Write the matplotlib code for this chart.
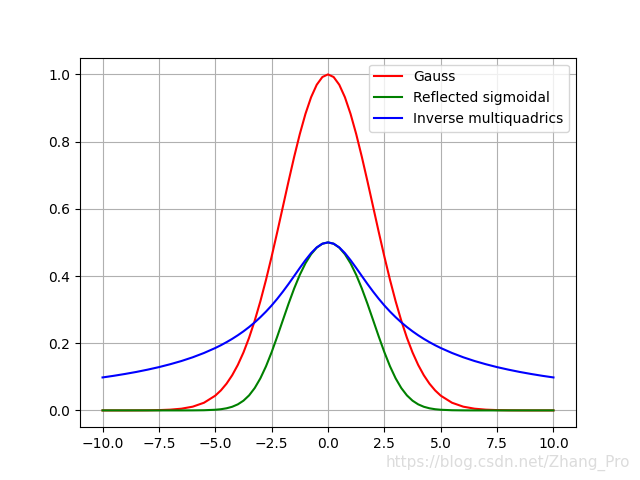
import matplotlib
matplotlib.use("Agg")
import matplotlib.pyplot as plt

x = [-10.0, -9.5, -9.0, -8.5, -8.0, -7.5, -7.0, -6.5, -6.0, -5.5,
     -5.0, -4.75, -4.5, -4.25, -4.0, -3.75, -3.5, -3.25, -3.0, -2.75,
     -2.5, -2.25, -2.0, -1.75, -1.5, -1.25, -1.0, -0.75, -0.5, -0.25,
     0.0,
     0.25, 0.5, 0.75, 1.0, 1.25, 1.5, 1.75, 2.0, 2.25, 2.5,
     2.75, 3.0, 3.25, 3.5, 3.75, 4.0, 4.25, 4.5, 4.75, 5.0,
     5.5, 6.0, 6.5, 7.0, 7.5, 8.0, 8.5, 9.0, 9.5, 10.0]

gauss = [0.0000, 0.0000, 0.0000, 0.0001, 0.0003, 0.0009, 0.0022, 0.0051, 0.0111, 0.0228,
         0.0439, 0.0596, 0.0796, 0.1046, 0.1353, 0.1724, 0.2163, 0.2671, 0.3247, 0.3886,
         0.4578, 0.5311, 0.6065, 0.6819, 0.7548, 0.8226, 0.8825, 0.9321, 0.9692, 0.9922,
         1.0000,
         0.9922, 0.9692, 0.9321, 0.8825, 0.8226, 0.7548, 0.6819, 0.6065, 0.5311, 0.4578,
         0.3886, 0.3247, 0.2671, 0.2163, 0.1724, 0.1353, 0.1046, 0.0796, 0.0596, 0.0439,
         0.0228, 0.0111, 0.0051, 0.0022, 0.0009, 0.0003, 0.0001, 0.0000, 0.0000, 0.0000]

reflected = [0.0000, 0.0000, 0.0000, 0.0000, 0.0000, 0.0000, 0.0000, 0.0000, 0.0001, 0.0005,
             0.0019, 0.0035, 0.0063, 0.0108, 0.0180, 0.0289, 0.0447, 0.0666, 0.0954, 0.1312,
             0.1733, 0.2200, 0.2689, 0.3174, 0.3630, 0.4036, 0.4378, 0.4649, 0.4844, 0.4961,
             0.5000,
             0.4961, 0.4844, 0.4649, 0.4378, 0.4036, 0.3630, 0.3174, 0.2689, 0.2200, 0.1733,
             0.1312, 0.0954, 0.0666, 0.0447, 0.0289, 0.0180, 0.0108, 0.0063, 0.0035, 0.0019,
             0.0005, 0.0001, 0.0000, 0.0000, 0.0000, 0.0000, 0.0000, 0.0000, 0.0000, 0.0000]

inv_mq = [0.0981, 0.1030, 0.1085, 0.1145, 0.1213, 0.1288, 0.1374, 0.1470, 0.1581, 0.1709,
          0.1857, 0.1940, 0.2031, 0.2129, 0.2236, 0.2353, 0.2481, 0.2620, 0.2774, 0.2941,
          0.3123, 0.3322, 0.3536, 0.3763, 0.4000, 0.4240, 0.4472, 0.4682, 0.4851, 0.4961,
          0.5000,
          0.4961, 0.4851, 0.4682, 0.4472, 0.4240, 0.4000, 0.3763, 0.3536, 0.3322, 0.3123,
          0.2941, 0.2774, 0.2620, 0.2481, 0.2353, 0.2236, 0.2129, 0.2031, 0.1940, 0.1857,
          0.1709, 0.1581, 0.1470, 0.1374, 0.1288, 0.1213, 0.1145, 0.1085, 0.1030, 0.0981]

labels = ["Gauss", "Reflected sigmoidal", "Inverse multiquadrics"]

fig, ax = plt.subplots(figsize=(6.4, 4.8), dpi=100)
ax.plot(x, gauss, color="red", label=labels[0])
ax.plot(x, reflected, color="green", label=labels[1])
ax.plot(x, inv_mq, color="blue", label=labels[2])
ax.grid(True)
ax.legend(loc="upper right")
fig.text(0.985, 0.035, "https://blog.csdn.net/Zhang_Pro", ha="right", va="center",
         color="#dcdcdc", fontsize=11)
fig.savefig("out.png", dpi=100)
